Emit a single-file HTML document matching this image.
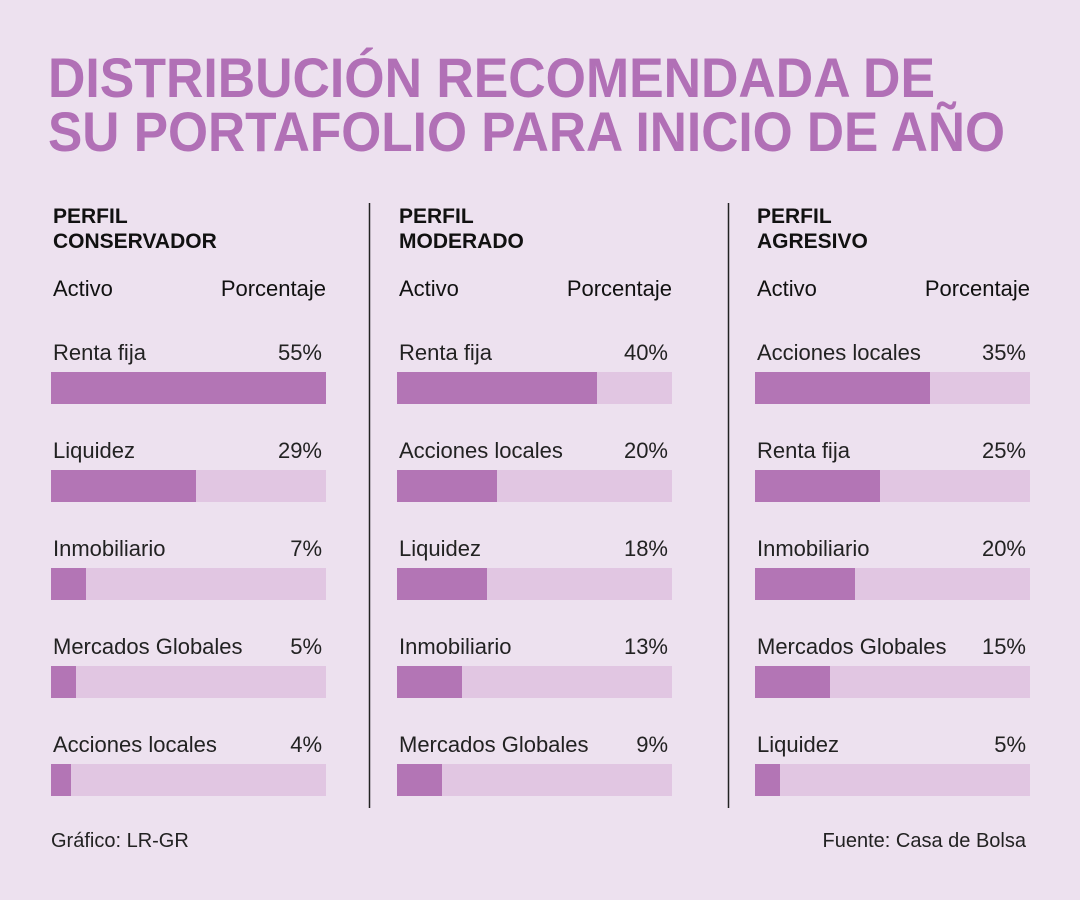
<!DOCTYPE html>
<html><head><meta charset="utf-8"><style>
html,body{margin:0;padding:0;background:#ede1ef;}
svg{display:block;font-family:"Liberation Sans",sans-serif;}
</style></head><body>
<svg id="c" width="1080" height="900" viewBox="0 0 1080 900">
<rect width="1080" height="900" fill="#ede1ef"/>
<text x="48" y="97" font-size="56" font-weight="bold" fill="#b170b6" textLength="887" lengthAdjust="spacingAndGlyphs">DISTRIBUCIÓN RECOMENDADA DE</text>
<text x="48" y="151" font-size="56" font-weight="bold" fill="#b170b6" textLength="957" lengthAdjust="spacingAndGlyphs">SU PORTAFOLIO PARA INICIO DE AÑO</text>
<line x1="369.5" y1="203" x2="369.5" y2="808" stroke="#222" stroke-width="1.5"/>
<line x1="728.5" y1="203" x2="728.5" y2="808" stroke="#222" stroke-width="1.5"/>
<text x="51" y="847" font-size="20" fill="#222">Gráfico: LR-GR</text>
<text x="1026" y="847" font-size="20" fill="#222" text-anchor="end">Fuente: Casa de Bolsa</text>
</svg>
<script>
const profiles = ["PERFIL|CONSERVADOR","PERFIL|MODERADO","PERFIL|AGRESIVO"];
const assetsConservador = ["Renta fija","Liquidez","Inmobiliario","Mercados Globales","Acciones locales"];
const valuesConservador = [55,29,7,5,4];
const assetsModerado = ["Renta fija","Acciones locales","Liquidez","Inmobiliario","Mercados Globales"];
const valuesModerado = [40,20,18,13,9];
const assetsAgresivo = ["Acciones locales","Renta fija","Inmobiliario","Mercados Globales","Liquidez"];
const valuesAgresivo = [35,25,20,15,5];
const scaleMax = 55;

const NS = "http://www.w3.org/2000/svg";
const svg = document.getElementById("c");
const colX = [51, 397, 755];
const barW = 275;
const xScale = v => v / scaleMax * barW;
function mk(tag, attrs, text){
  const e = document.createElementNS(NS, tag);
  for (const k in attrs) e.setAttribute(k, attrs[k]);
  if (text !== undefined) e.textContent = text;
  svg.appendChild(e);
  return e;
}
const allAssets = [assetsConservador, assetsModerado, assetsAgresivo];
const allValues = [valuesConservador, valuesModerado, valuesAgresivo];
profiles.forEach((p, c) => {
  const x0 = colX[c];
  const parts = p.split("|");
  let t = mk("text", {x: x0 + 2, y: 223, "font-size": 21, "font-weight": "bold", fill: "#111"}, parts[0]);
  
  
  t = mk("text", {x: x0 + 2, y: 248, "font-size": 21, "font-weight": "bold", fill: "#111"}, parts[1]);
  
  
  t = mk("text", {x: x0 + 2, y: 296, "font-size": 22, fill: "#111"}, "Activo");
  
  
  t = mk("text", {x: x0 + barW, y: 296, "font-size": 22, fill: "#111", "text-anchor": "end"}, "Porcentaje");
  
  
  allAssets[c].forEach((a, i) => {
    const y = 372 + i * 98;
    const v = allValues[c][i];
    let l = mk("text", {x: x0 + 2, y: y - 12, "font-size": 22, fill: "#222"}, a);
    
    
    l = mk("text", {x: x0 + barW - 4, y: y - 12, "font-size": 22, fill: "#222", "text-anchor": "end"}, v + "%");
    
    
    const tr = mk("rect", {x: x0, y: y, width: barW, height: 32, fill: "#e1c6e2"});
    
    
    const b = mk("rect", {x: x0, y: y, width: xScale(v), height: 32, fill: "#b375b5"});
    
    
  });
});
</script>
</body></html>
